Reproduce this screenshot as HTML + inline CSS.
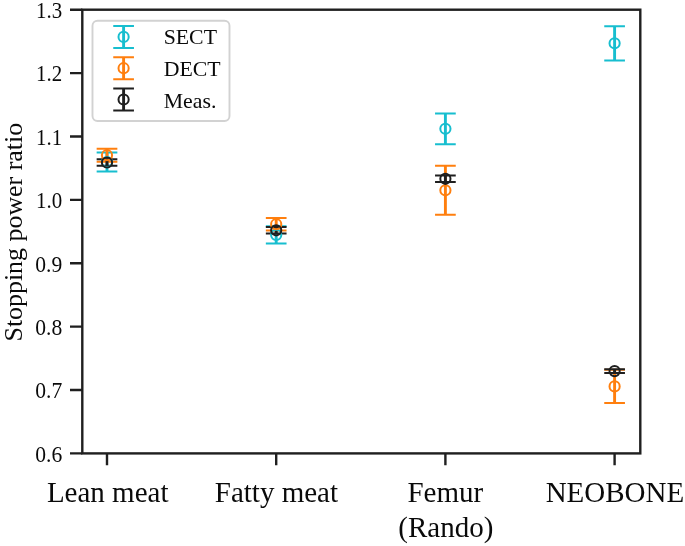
<!DOCTYPE html>
<html><head><meta charset="utf-8"><title>Stopping power ratio</title>
<style>
html,body{margin:0;padding:0;background:#fff;}
body{width:685px;height:546px;overflow:hidden;}
svg{display:block;}
text{font-family:"Liberation Serif","Times New Roman",serif;fill:#0a0a0a;}
</style></head><body>
<svg width="685" height="546" viewBox="0 0 685 546">
<rect width="685" height="546" fill="#fff"/>

<g stroke="#17becf" fill="none"><path stroke-width="2.9" d="M107.00 152.60V171.40"/><path stroke-width="2.0" d="M96.65 152.60H117.35M96.65 171.40H117.35"/></g>
<g stroke="#17becf" fill="none"><path stroke-width="2.9" d="M276.20 226.20V243.60"/><path stroke-width="2.0" d="M265.85 226.20H286.55M265.85 243.60H286.55"/></g>
<g stroke="#17becf" fill="none"><path stroke-width="2.9" d="M445.40 113.40V144.20"/><path stroke-width="2.0" d="M435.05 113.40H455.75M435.05 144.20H455.75"/></g>
<g stroke="#17becf" fill="none"><path stroke-width="2.9" d="M614.60 26.20V60.40"/><path stroke-width="2.0" d="M604.25 26.20H624.95M604.25 60.40H624.95"/></g>
<g stroke="#ff7f0e" fill="none"><path stroke-width="2.9" d="M107.00 148.70V161.70"/><path stroke-width="2.0" d="M96.65 148.70H117.35M96.65 161.70H117.35"/></g>
<g stroke="#ff7f0e" fill="none"><path stroke-width="2.9" d="M276.20 218.00V230.40"/><path stroke-width="2.0" d="M265.85 218.00H286.55M265.85 230.40H286.55"/></g>
<g stroke="#ff7f0e" fill="none"><path stroke-width="2.9" d="M445.40 165.80V214.80"/><path stroke-width="2.0" d="M435.05 165.80H455.75M435.05 214.80H455.75"/></g>
<g stroke="#ff7f0e" fill="none"><path stroke-width="2.9" d="M614.60 369.70V403.10"/><path stroke-width="2.0" d="M604.25 369.70H624.95M604.25 403.10H624.95"/></g>
<g stroke="#1f1f1f" fill="none"><path stroke-width="2.9" d="M107.00 159.20V165.80"/><path stroke-width="2.0" d="M96.65 159.20H117.35M96.65 165.80H117.35"/></g>
<g stroke="#1f1f1f" fill="none"><path stroke-width="2.9" d="M276.20 227.10V233.50"/><path stroke-width="2.0" d="M265.85 227.10H286.55M265.85 233.50H286.55"/></g>
<g stroke="#1f1f1f" fill="none"><path stroke-width="2.9" d="M445.40 175.55V182.05"/><path stroke-width="2.0" d="M435.05 175.55H455.75M435.05 182.05H455.75"/></g>
<g stroke="#1f1f1f" fill="none"><path stroke-width="2.9" d="M614.60 369.20V373.00"/><path stroke-width="2.0" d="M604.25 369.20H624.95M604.25 373.00H624.95"/></g>
<circle cx="107.00" cy="162.00" r="5.1" stroke="#17becf" fill="none" stroke-width="2.0"/>
<circle cx="276.20" cy="234.90" r="5.1" stroke="#17becf" fill="none" stroke-width="2.0"/>
<circle cx="445.40" cy="128.80" r="5.1" stroke="#17becf" fill="none" stroke-width="2.0"/>
<circle cx="614.60" cy="43.30" r="5.1" stroke="#17becf" fill="none" stroke-width="2.0"/>
<circle cx="107.00" cy="155.20" r="5.1" stroke="#ff7f0e" fill="none" stroke-width="2.0"/>
<circle cx="276.20" cy="224.20" r="5.1" stroke="#ff7f0e" fill="none" stroke-width="2.0"/>
<circle cx="445.40" cy="190.30" r="5.1" stroke="#ff7f0e" fill="none" stroke-width="2.0"/>
<circle cx="614.60" cy="386.40" r="5.1" stroke="#ff7f0e" fill="none" stroke-width="2.0"/>
<circle cx="107.00" cy="162.50" r="5.1" stroke="#1f1f1f" fill="none" stroke-width="2.0"/>
<circle cx="276.20" cy="230.30" r="5.1" stroke="#1f1f1f" fill="none" stroke-width="2.0"/>
<circle cx="445.40" cy="178.80" r="5.1" stroke="#1f1f1f" fill="none" stroke-width="2.0"/>
<circle cx="614.60" cy="371.10" r="5.1" stroke="#1f1f1f" fill="none" stroke-width="2.0"/>
<rect x="82.3" y="9.7" width="558.0" height="443.7" fill="none" stroke="#1f1f1f" stroke-width="2.4"/>
<path d="M70 9.70H82.3M70 73.09H82.3M70 136.47H82.3M70 199.86H82.3M70 263.24H82.3M70 326.63H82.3M70 390.01H82.3M70 453.40H82.3M107.0 453.4V465.2M276.2 453.4V465.2M445.4 453.4V465.2M614.6 453.4V465.2" stroke="#1f1f1f" stroke-width="2.4" fill="none"/>
<text transform="translate(62.2,18.00) scale(0.96,1.08)" font-size="21.8" text-anchor="end">1.3</text>
<text transform="translate(62.2,81.39) scale(0.96,1.08)" font-size="21.8" text-anchor="end">1.2</text>
<text transform="translate(62.2,144.77) scale(0.96,1.08)" font-size="21.8" text-anchor="end">1.1</text>
<text transform="translate(62.2,208.16) scale(0.96,1.08)" font-size="21.8" text-anchor="end">1.0</text>
<text transform="translate(62.2,271.54) scale(0.99,1.08)" font-size="21.8" text-anchor="end">0.9</text>
<text transform="translate(62.2,334.93) scale(0.99,1.08)" font-size="21.8" text-anchor="end">0.8</text>
<text transform="translate(62.2,398.31) scale(0.99,1.08)" font-size="21.8" text-anchor="end">0.7</text>
<text transform="translate(62.2,461.70) scale(0.99,1.08)" font-size="21.8" text-anchor="end">0.6</text>
<text x="107.7" y="502.3" font-size="29" text-anchor="middle">Lean meat</text>
<text x="276.4" y="502.3" font-size="29" text-anchor="middle">Fatty meat</text>
<text x="445.3" y="502.3" font-size="29" text-anchor="middle">Femur</text>
<text x="445.8" y="536.8" font-size="29" text-anchor="middle">(Rando)</text>
<text x="614.9" y="502.3" font-size="29" text-anchor="middle">NEOBONE</text>
<text transform="translate(21.7,232.2) rotate(-90)" font-size="25.9" text-anchor="middle">Stopping power ratio</text>
<rect x="92.5" y="20.8" width="137" height="100.2" rx="5" ry="5" fill="#fff" fill-opacity="0.8" stroke="#d2d2d2" stroke-width="1.9"/>
<g stroke="#17becf" fill="none"><path stroke-width="2.9" d="M123.60 25.90V47.90"/><path stroke-width="2.0" d="M113.25 25.90H133.95M113.25 47.90H133.95"/></g><circle cx="123.60" cy="36.90" r="5.1" stroke="#17becf" fill="none" stroke-width="2.0"/>
<text x="163.7" y="44.2" font-size="21.8">SECT</text>
<g stroke="#ff7f0e" fill="none"><path stroke-width="2.9" d="M123.60 57.20V79.20"/><path stroke-width="2.0" d="M113.25 57.20H133.95M113.25 79.20H133.95"/></g><circle cx="123.60" cy="68.20" r="5.1" stroke="#ff7f0e" fill="none" stroke-width="2.0"/>
<text x="163.7" y="75.9" font-size="21.8">DECT</text>
<g stroke="#1f1f1f" fill="none"><path stroke-width="2.9" d="M123.60 88.50V110.50"/><path stroke-width="2.0" d="M113.25 88.50H133.95M113.25 110.50H133.95"/></g><circle cx="123.60" cy="99.50" r="5.1" stroke="#1f1f1f" fill="none" stroke-width="2.0"/>
<text x="163.7" y="107.7" font-size="21.8">Meas.</text>
</svg>
</body></html>
